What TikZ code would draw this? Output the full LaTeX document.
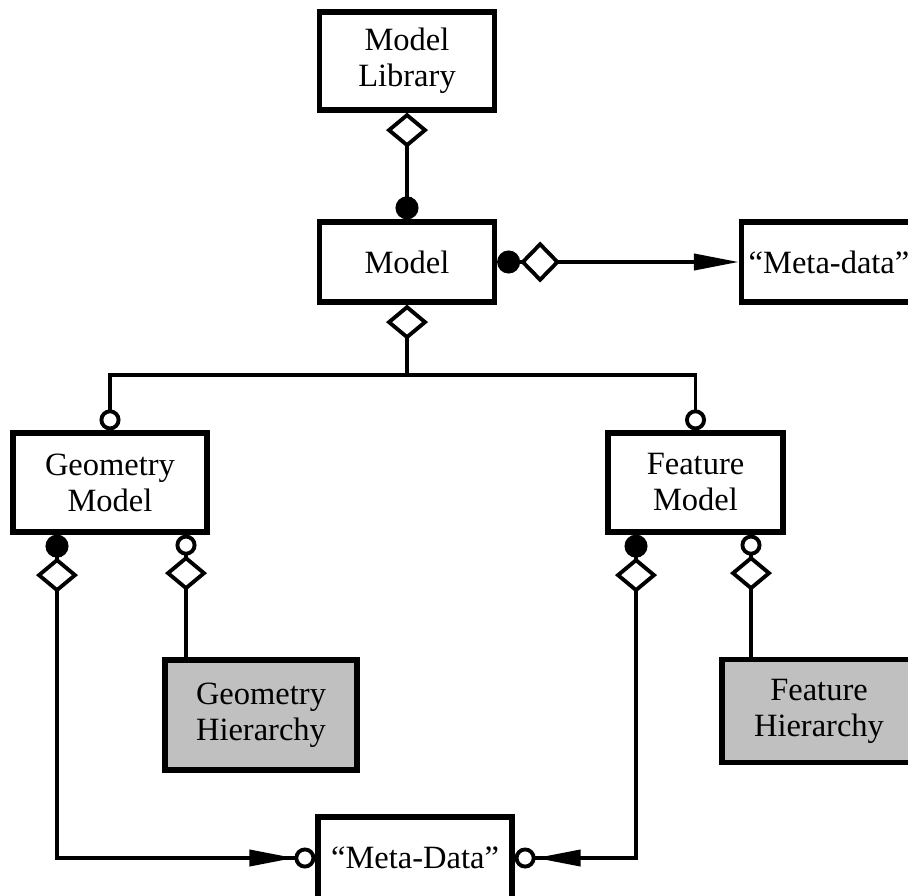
\documentclass[tikz,border=0pt]{standalone}
\usepackage{fontspec}
\setmainfont{Liberation Serif}
\usepackage{tikz}
\usetikzlibrary{arrows.meta,positioning,calc}
\definecolor{hiergray}{RGB}{192,192,192}
\tikzset{
    umlbox/.style={rectangle, draw=black, fill=#1, line width=3pt,
                   minimum width=3.5cm, minimum height=1.6cm, align=center,
                   inner sep=0pt, font=\fontsize{18.5}{20.5}\selectfont},
    umlbox/.default=white,
    conn/.style={line width=2.2pt},
    odia/.tip={Diamond[fill=white,length=0.7cm,width=0.84cm]},
    odiah/.tip={Diamond[fill=white,length=0.8cm,width=0.82cm]},
    fdot/.tip={Circle[length=0.46cm]},
    odot/.tip={Circle[fill=white,length=0.42cm]},
    tri/.tip={Triangle[length=0.9cm,width=0.32cm]},
}
\begin{document}
\begin{tikzpicture}[x=0.02cm, y=-0.02cm]
    \clip (0,0) rectangle (908,895);
    \node[umlbox, minimum height=1.96cm]                        (lib)   at (407,61)    {Model\\Library};
    \node[umlbox]                                               (model) at (407,262)   {Model};
    \node[umlbox]                                               (meta)  at (829,262)   {“Meta-data”};
    \node[umlbox, minimum width=3.88cm, minimum height=1.98cm]  (geom)  at (110,482.5) {Geometry\\Model};
    \node[umlbox, minimum height=1.98cm]                        (feat)  at (695.5,482.5) {Feature\\Model};
    \node[umlbox=hiergray, minimum width=3.84cm, minimum height=2.2cm]  (ghier) at (261,715) {Geometry\\Hierarchy};
    \node[umlbox=hiergray, minimum width=3.88cm, minimum height=2.06cm] (fhier) at (819,711) {Feature\\Hierarchy};
    \node[umlbox, minimum width=3.88cm, minimum height=1.64cm]  (mdata) at (415,858)   {“Meta-Data”};

    \coordinate (bus)   at (407,375);
    \coordinate (gfill) at ($(geom.south)+(-53,0)$);
    \coordinate (gring) at ($(geom.south)+(76,0)$);
    \coordinate (ffill) at ($(feat.south)+(-59.5,0)$);
    \coordinate (fring) at ($(feat.south)+(55.5,0)$);

    \draw[conn, {odia[]}-{fdot[]}]              (lib.south) -- (model.north);
    \draw[conn, {fdot[] odiah[]}-{tri[]}]       (model.east) -- (meta.west);
    \draw[conn, {odia[]}-]                      (model.south) -- (bus);
    \draw[conn, -{odot[]}]                      (bus) -| (geom.north);
    \draw[conn, -{odot[]}]                      (bus) -| (feat.north);

    \draw[conn, {fdot[] odia[]}-{tri[] odot[]}] (gfill) |- (mdata.west);
    \draw[conn, {odot[] odia[]}-]               (gring) -- (gring |- ghier.north);
    \draw[conn, {fdot[] odia[]}-{tri[] odot[]}] (ffill) |- (mdata.east);
    \draw[conn, {odot[] odia[]}-]               (fring) -- (fring |- fhier.north);
\end{tikzpicture}
\end{document}
